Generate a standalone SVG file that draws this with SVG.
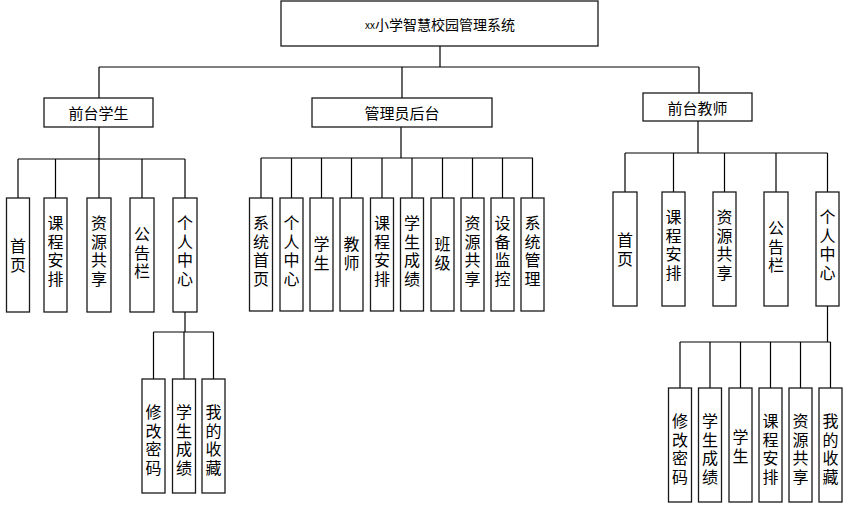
<svg xmlns="http://www.w3.org/2000/svg" width="861" height="512" viewBox="0 0 861 512">
<style>
.b{fill:#fff;stroke:#1a1a1a;stroke-width:1.3}
.c{fill:none;stroke:#000;stroke-width:1.2}
text{font-family:"Noto Sans CJK SC","Noto Sans",sans-serif;fill:#000;text-anchor:middle;dominant-baseline:central}
.v{font-size:16px}
.h{font-size:15px}
</style>
<rect width="861" height="512" fill="#fff"/>
<g id="connectors">
<path class="c" d="M440 46V67M99 67H699M99 67V98M402 67V98M699 67V93"/>
<path class="c" d="M99 127V159M18 159H185M18 159V198M55.5 159V198M99 159V198M142 159V198M185 159V198"/>
<path class="c" d="M185 312V332M153.5 332H213.5M153.5 332V379M184 332V379M213.5 332V379"/>
<path class="c" d="M401 127V158M261 158H533M261 158V198M291.5 158V198M321.5 158V198M351.5 158V198M382 158V198M412 158V198M442.5 158V198M472.5 158V198M502.5 158V198M532.5 158V198"/>
<path class="c" d="M698 121V153M625 153H827.5M625 153V192M673.5 153V192M724.5 153V192M776 153V192M827.5 153V192"/>
<path class="c" d="M827.5 306V342M680 342H830.5M680 342V388M710 342V388M740.5 342V388M770.5 342V388M800.5 342V388M830.5 342V388"/>
</g>
<g id="root"><rect class="b" x="281" y="1" width="317" height="45"/><text x="440" y="24" font-size="14"><tspan font-size="10">xx</tspan>小学智慧校园管理系统</text></g>
<g id="student"><rect class="b" x="44" y="98" width="109" height="29"/><text class="h" x="98.5" y="112.5">前台学生</text></g>
<g id="admin"><rect class="b" x="312" y="98" width="180" height="29"/><text class="h" x="402" y="112.5">管理员后台</text></g>
<g id="teacher"><rect class="b" x="643" y="93" width="109" height="28"/><text class="h" x="697.5" y="107">前台教师</text></g>

<g id="s1"><rect class="b" x="6.5" y="198" width="23" height="114"/><text class="v" x="18"><tspan x="18" y="245">首</tspan><tspan x="18" y="263.5">页</tspan></text></g>
<g id="s2"><rect class="b" x="44" y="198" width="23" height="114"/><text class="v"><tspan x="55.5" y="222">课</tspan><tspan x="55.5" y="240.5">程</tspan><tspan x="55.5" y="259">安</tspan><tspan x="55.5" y="277.5">排</tspan></text></g>
<g id="s3"><rect class="b" x="87" y="198" width="24" height="114"/><text class="v"><tspan x="99" y="222">资</tspan><tspan x="99" y="240.5">源</tspan><tspan x="99" y="259">共</tspan><tspan x="99" y="277.5">享</tspan></text></g>
<g id="s4"><rect class="b" x="130" y="198" width="24" height="114"/><text class="v"><tspan x="142" y="233">公</tspan><tspan x="142" y="251.5">告</tspan><tspan x="142" y="270">栏</tspan></text></g>
<g id="s5"><rect class="b" x="173" y="198" width="24" height="114"/><text class="v"><tspan x="185" y="222">个</tspan><tspan x="185" y="240.5">人</tspan><tspan x="185" y="259">中</tspan><tspan x="185" y="277.5">心</tspan></text></g>

<g id="s5a"><rect class="b" x="142" y="379" width="23" height="114"/><text class="v"><tspan x="153.5" y="411">修</tspan><tspan x="153.5" y="429.5">改</tspan><tspan x="153.5" y="448">密</tspan><tspan x="153.5" y="466.5">码</tspan></text></g>
<g id="s5b"><rect class="b" x="172.5" y="379" width="23" height="114"/><text class="v"><tspan x="184" y="411">学</tspan><tspan x="184" y="429.5">生</tspan><tspan x="184" y="448">成</tspan><tspan x="184" y="466.5">绩</tspan></text></g>
<g id="s5c"><rect class="b" x="202" y="379" width="23" height="114"/><text class="v"><tspan x="213.5" y="411">我</tspan><tspan x="213.5" y="429.5">的</tspan><tspan x="213.5" y="448">收</tspan><tspan x="213.5" y="466.5">藏</tspan></text></g>

<g id="a1"><rect class="b" x="249.5" y="198" width="23" height="113"/><text class="v"><tspan x="261" y="222">系</tspan><tspan x="261" y="240.5">统</tspan><tspan x="261" y="259">首</tspan><tspan x="261" y="277.5">页</tspan></text></g>
<g id="a2"><rect class="b" x="280" y="198" width="23" height="113"/><text class="v"><tspan x="291.5" y="222">个</tspan><tspan x="291.5" y="240.5">人</tspan><tspan x="291.5" y="259">中</tspan><tspan x="291.5" y="277.5">心</tspan></text></g>
<g id="a3"><rect class="b" x="310" y="198" width="23" height="113"/><text class="v"><tspan x="321.5" y="243">学</tspan><tspan x="321.5" y="261.5">生</tspan></text></g>
<g id="a4"><rect class="b" x="340" y="198" width="23" height="113"/><text class="v"><tspan x="351.5" y="243">教</tspan><tspan x="351.5" y="261.5">师</tspan></text></g>
<g id="a5"><rect class="b" x="370.5" y="198" width="23" height="113"/><text class="v"><tspan x="382" y="222">课</tspan><tspan x="382" y="240.5">程</tspan><tspan x="382" y="259">安</tspan><tspan x="382" y="277.5">排</tspan></text></g>
<g id="a6"><rect class="b" x="400.5" y="198" width="23" height="113"/><text class="v"><tspan x="412" y="222">学</tspan><tspan x="412" y="240.5">生</tspan><tspan x="412" y="259">成</tspan><tspan x="412" y="277.5">绩</tspan></text></g>
<g id="a7"><rect class="b" x="431" y="198" width="23" height="113"/><text class="v"><tspan x="442.5" y="243">班</tspan><tspan x="442.5" y="261.5">级</tspan></text></g>
<g id="a8"><rect class="b" x="461" y="198" width="23" height="113"/><text class="v"><tspan x="472.5" y="222">资</tspan><tspan x="472.5" y="240.5">源</tspan><tspan x="472.5" y="259">共</tspan><tspan x="472.5" y="277.5">享</tspan></text></g>
<g id="a9"><rect class="b" x="491" y="198" width="23" height="113"/><text class="v"><tspan x="502.5" y="222">设</tspan><tspan x="502.5" y="240.5">备</tspan><tspan x="502.5" y="259">监</tspan><tspan x="502.5" y="277.5">控</tspan></text></g>
<g id="a10"><rect class="b" x="521" y="198" width="23" height="113"/><text class="v"><tspan x="532.5" y="222">系</tspan><tspan x="532.5" y="240.5">统</tspan><tspan x="532.5" y="259">管</tspan><tspan x="532.5" y="277.5">理</tspan></text></g>

<g id="t1"><rect class="b" x="613" y="192" width="24" height="114"/><text class="v"><tspan x="625" y="239">首</tspan><tspan x="625" y="257.5">页</tspan></text></g>
<g id="t2"><rect class="b" x="662" y="192" width="23" height="114"/><text class="v"><tspan x="673.5" y="216">课</tspan><tspan x="673.5" y="234.5">程</tspan><tspan x="673.5" y="253">安</tspan><tspan x="673.5" y="271.5">排</tspan></text></g>
<g id="t3"><rect class="b" x="713" y="192" width="23" height="114"/><text class="v"><tspan x="724.5" y="216">资</tspan><tspan x="724.5" y="234.5">源</tspan><tspan x="724.5" y="253">共</tspan><tspan x="724.5" y="271.5">享</tspan></text></g>
<g id="t4"><rect class="b" x="764" y="192" width="24" height="114"/><text class="v"><tspan x="776" y="227">公</tspan><tspan x="776" y="245.5">告</tspan><tspan x="776" y="264">栏</tspan></text></g>
<g id="t5"><rect class="b" x="816" y="192" width="23" height="114"/><text class="v"><tspan x="827.5" y="216">个</tspan><tspan x="827.5" y="234.5">人</tspan><tspan x="827.5" y="253">中</tspan><tspan x="827.5" y="271.5">心</tspan></text></g>

<g id="t5a"><rect class="b" x="668.5" y="388" width="23" height="114"/><text class="v"><tspan x="680" y="420">修</tspan><tspan x="680" y="438.5">改</tspan><tspan x="680" y="457">密</tspan><tspan x="680" y="475.5">码</tspan></text></g>
<g id="t5b"><rect class="b" x="698.5" y="388" width="23" height="114"/><text class="v"><tspan x="710" y="420">学</tspan><tspan x="710" y="438.5">生</tspan><tspan x="710" y="457">成</tspan><tspan x="710" y="475.5">绩</tspan></text></g>
<g id="t5c"><rect class="b" x="729" y="388" width="23" height="114"/><text class="v"><tspan x="740.5" y="436">学</tspan><tspan x="740.5" y="454.5">生</tspan></text></g>
<g id="t5d"><rect class="b" x="759" y="388" width="23" height="114"/><text class="v"><tspan x="770.5" y="420">课</tspan><tspan x="770.5" y="438.5">程</tspan><tspan x="770.5" y="457">安</tspan><tspan x="770.5" y="475.5">排</tspan></text></g>
<g id="t5e"><rect class="b" x="789" y="388" width="23" height="114"/><text class="v"><tspan x="800.5" y="420">资</tspan><tspan x="800.5" y="438.5">源</tspan><tspan x="800.5" y="457">共</tspan><tspan x="800.5" y="475.5">享</tspan></text></g>
<g id="t5f"><rect class="b" x="819" y="388" width="23" height="114"/><text class="v"><tspan x="830.5" y="420">我</tspan><tspan x="830.5" y="438.5">的</tspan><tspan x="830.5" y="457">收</tspan><tspan x="830.5" y="475.5">藏</tspan></text></g>
</svg>
